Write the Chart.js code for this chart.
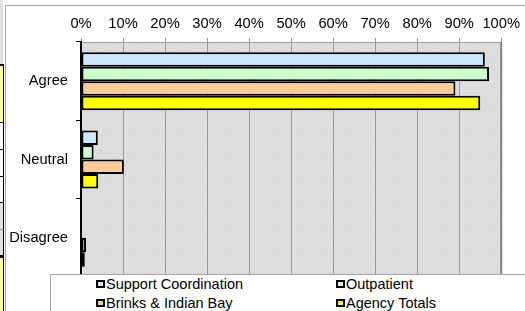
<!DOCTYPE html>
<html>
<head>
<meta charset="utf-8">
<script src="https://cdn.jsdelivr.net/npm/chart.js@4.4.1/dist/chart.umd.min.js"></script>
<style>
    html, body { margin: 0; padding: 0; background: #fff; }
    body { width: 525px; height: 311px; position: relative; overflow: hidden; font-family: "Liberation Sans", Arial, sans-serif; }
    .cell { position: absolute; left: 0; width: 3px; border-right: 1px solid #000; }
    #frame { position: absolute; left: 5px; top: 5px; width: 530px; height: 320px; border-top: 1px solid #a6a6a6; border-left: 1px solid #a6a6a6; }
    #wrap { position: absolute; left: 0; top: 0; width: 525px; height: 311px; }
    #legend { position: absolute; left: 50px; top: 274px; width: 490px; height: 50px; background: #fff; border: 1px solid #a6a6a6; }
    .item { position: absolute; font-size: 14.5px; color: #000; line-height: 16px; white-space: nowrap; }
    .swatch { position: absolute; width: 5px; height: 4px; border: 2px solid #000; }
</style>
</head>
<body>
<!-- bits of the spreadsheet showing at the left edge -->
<div class="cell" style="top:0;height:64px;background:#e0e0e0;border-right:none"></div>
<div class="cell" style="top:64px;height:57px;background:#ffff99;border-top:2px solid #000"></div>
<div class="cell" style="top:122px;height:26px;background:#fff;border-top:1px solid #000"></div>
<div class="cell" style="top:149px;height:26px;background:#fff;border-top:1px solid #000"></div>
<div class="cell" style="top:176px;height:25px;background:#fff;border-top:1px solid #000"></div>
<div class="cell" style="top:202px;height:26px;background:#e0e0e0;border-top:1px solid #000"></div>
<div class="cell" style="top:229px;height:25px;background:#e0e0e0;border-top:1px solid #999"></div>
<div class="cell" style="top:255px;height:60px;background:#ffff99;border-top:3px solid #000"></div>
<div id="frame"></div>
<div id="wrap"><canvas id="surveyChart" width="525" height="311"></canvas></div>
<div id="legend"></div>

<script>
// categories and series (percent of responses)
const categories = ['Agree', 'Neutral', 'Disagree'];
const seriesNames = ['Support Coordination', 'Outpatient', 'Brinks & Indian Bay', 'Agency Totals'];
const supportCoordination = [96.1, 4.0, 0];
const outpatient = [97.1, 3.0, 0];
const brinksIndianBay = [89.1, 10.2, 1.2];
const agencyTotals = [95.0, 4.1, 0.9];
const seriesColors = ['#cce8ff', '#ccffcc', '#ffcc99', '#ffff00'];
const xTicks = [0, 10, 20, 30, 40, 50, 60, 70, 80, 90, 100];

const FONT = { family: '"Liberation Sans", Arial, sans-serif', size: 14.7 };

/**
 * Grey plot area with the faint dotted fill
 */
function makePattern(ctx) {
    const c = document.createElement('canvas');
    c.width = 6;
    c.height = 6;
    const p = c.getContext('2d');
    p.fillStyle = '#dcdcdc';
    p.fillRect(0, 0, 6, 6);
    p.fillStyle = '#e9e9e9';
    p.fillRect(1, 1, 1, 1);
    p.fillRect(4, 4, 1, 1);
    return ctx.createPattern(c, 'repeat');
}

const plotArea = {
    id: 'plotArea',
    beforeDraw(chart) {
        const { ctx, chartArea: a } = chart;
        ctx.save();
        ctx.fillStyle = makePattern(ctx);
        ctx.fillRect(a.left, a.top, a.right - a.left, a.bottom - a.top);
        ctx.restore();
    },
    afterDraw(chart) {
        const { ctx, chartArea: a } = chart;
        ctx.save();
        ctx.strokeStyle = '#808080';
        ctx.lineWidth = 2;
        ctx.beginPath();
        ctx.moveTo(a.right, a.top);
        ctx.lineTo(a.right, a.bottom);
        ctx.stroke();
        ctx.restore();
    }
};

const seriesData = [supportCoordination, outpatient, brinksIndianBay, agencyTotals];

const surveyChart = new Chart(document.getElementById('surveyChart'), {
    type: 'bar',
    data: {
        labels: categories,
        datasets: seriesNames.map((name, i) => ({
            label: name,
            data: seriesData[i],
            backgroundColor: seriesColors[i],
            borderColor: '#000',
            borderWidth: 2,
            borderSkipped: false,
            categoryPercentage: 0.74,
            barPercentage: 1.0
        }))
    },
    options: {
        indexAxis: 'y',
        responsive: false,
        animation: false,
        devicePixelRatio: 1,
        layout: { padding: { left: 0, top: 0, right: 19, bottom: 34 } },
        scales: {
            x: {
                position: 'top',
                min: 0,
                max: 100,
                afterBuildTicks: (s) => { s.ticks = xTicks.map(v => ({ value: v })); },
                afterFit: (s) => { s.height = 42; },
                ticks: {
                    color: '#000',
                    font: FONT,
                    padding: 5,
                    maxRotation: 0,
                    callback: (v) => v + '%'
                },
                grid: { color: '#999', lineWidth: 1, tickLength: 4, tickColor: '#999' },
                border: { color: '#999', width: 1 }
            },
            y: {
                afterFit: (s) => { s.width = 81; },
                ticks: { color: '#000', font: FONT, padding: 8 },
                grid: { drawOnChartArea: false, tickLength: 5, tickColor: '#000', offset: true },
                border: { color: '#000', width: 2 }
            }
        },
        plugins: {
            legend: { display: false },
            tooltip: { enabled: false }
        }
    },
    plugins: [plotArea]
});

// legend in two columns, laid over the bottom of the plot like the original
const legendEl = document.getElementById('legend');
const legendPos = [[45, 1], [285, 1], [45, 20], [285, 20]];
seriesNames.forEach((name, i) => {
    const [lx, ly] = legendPos[i];
    const sw = document.createElement('div');
    sw.className = 'swatch';
    sw.style.left = lx + 'px';
    sw.style.top = (ly + 4) + 'px';
    sw.style.background = seriesColors[i];
    legendEl.appendChild(sw);
    const t = document.createElement('div');
    t.className = 'item';
    t.style.left = (lx + 10) + 'px';
    t.style.top = ly + 'px';
    t.textContent = name;
    legendEl.appendChild(t);
});
</script>
</body>
</html>
